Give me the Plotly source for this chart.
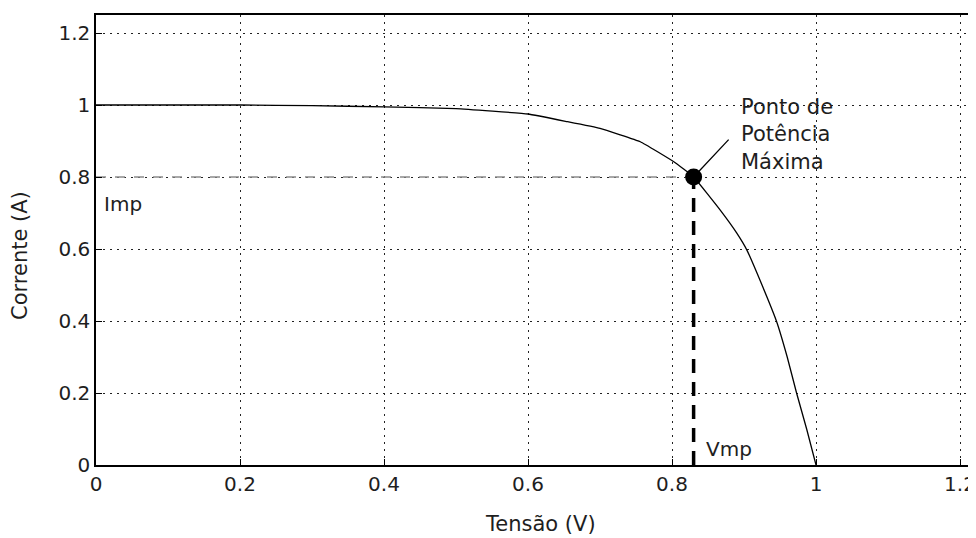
import plotly.graph_objects as go

# I-V curve values
tensao = [0, 0.1, 0.2, 0.3, 0.4, 0.5, 0.6, 0.654, 0.7, 0.756, 0.802, 0.83, 0.867, 0.89, 0.904, 0.925, 0.945, 0.96, 0.973, 0.987, 1.0]
corrente = [1.0, 1.0, 1.0, 0.998, 0.995, 0.99, 0.975, 0.954, 0.935, 0.898, 0.843, 0.8, 0.708, 0.644, 0.597, 0.5, 0.4, 0.3, 0.2, 0.1, 0.0]

vmp = 0.83
imp = 0.8
tick_vals = [0, 0.2, 0.4, 0.6, 0.8, 1, 1.2]
tick_text = ["0", "0.2", "0.4", "0.6", "0.8", "1", "1.2"]

FONT = "DejaVu Sans"
TXT = "#1e1e1e"

fig = go.Figure()

# Imp dashed horizontal
fig.add_trace(go.Scatter(x=[0, vmp], y=[imp, imp], mode="lines",
                         line=dict(color="#8c8c8c", width=1.6, dash="10px,9px"),
                         hoverinfo="skip", showlegend=False))
# Vmp dashed vertical
fig.add_trace(go.Scatter(x=[vmp, vmp], y=[0, imp], mode="lines",
                         line=dict(color="black", width=3.5, dash="14px,9px"),
                         hoverinfo="skip", showlegend=False))
# curve
fig.add_trace(go.Scatter(x=tensao, y=corrente, mode="lines",
                         line=dict(color="black", width=1.3, shape="spline", smoothing=0.3),
                         showlegend=False))
# maximum power point
fig.add_trace(go.Scatter(x=[vmp], y=[imp], mode="markers",
                         marker=dict(color="black", size=17),
                         showlegend=False))

axis_common = dict(
    showline=True, linecolor="black", linewidth=1.5,
    ticks="inside", ticklen=6, tickcolor="black", tickwidth=1.2,
    showgrid=True, gridcolor="#222222", griddash="2px,5px", gridwidth=1.4,
    zeroline=False, automargin=False,
    tickfont=dict(family=FONT, size=20, color=TXT),
    tickvals=tick_vals, ticktext=tick_text,
)

fig.update_layout(
    width=968, height=530,
    margin=dict(l=88, r=0, t=7, b=73),
    paper_bgcolor="white", plot_bgcolor="white",
    xaxis=dict(range=[0, 1.2222], mirror=True, **axis_common),
    yaxis=dict(range=[0, 1.25], mirror=False, **axis_common),
    showlegend=False,
)

annotations = [
    dict(x=0.617, y=-0.131, xref="x", yref="paper", text="Tensão (V)", showarrow=False,
         font=dict(family=FONT, size=21, color=TXT), xanchor="center", yanchor="middle"),
    dict(x=-0.0864, y=0.4667, xref="paper", yref="paper", text="Corrente (A)", showarrow=False,
         textangle=-90, font=dict(family=FONT, size=21, color=TXT),
         xanchor="center", yanchor="middle"),
    dict(x=0.009, y=0.725, xref="x", yref="y", text="Imp", showarrow=False,
         font=dict(family=FONT, size=20, color=TXT), xanchor="left", yanchor="middle"),
    dict(x=0.845, y=0.045, xref="x", yref="y", text="Vmp", showarrow=False,
         font=dict(family=FONT, size=20, color=TXT), xanchor="left", yanchor="middle"),
    dict(x=0.893, y=0.918, xref="x", yref="y", text="Ponto de<br>Potência<br>Máxima",
         showarrow=False, align="left",
         font=dict(family=FONT, size=21, color=TXT), xanchor="left", yanchor="middle"),
    dict(x=vmp, y=imp, xref="x", yref="y", text="", showarrow=True,
         axref="x", ayref="y", ax=0.8806, ay=0.908, arrowhead=0, arrowwidth=1.3,
         arrowcolor="black", standoff=0, startstandoff=0),
]
fig.update_layout(annotations=annotations)

fig.write_html("out.html")
